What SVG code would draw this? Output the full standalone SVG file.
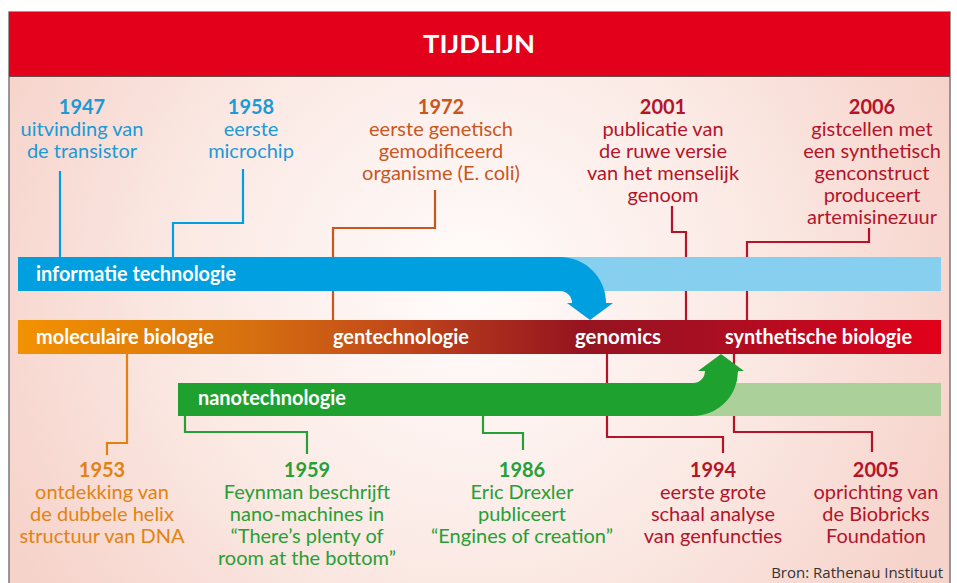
<svg xmlns="http://www.w3.org/2000/svg" width="957" height="583" viewBox="0 0 957 583">
<defs>
<radialGradient id="bg" cx="470" cy="290" r="520" gradientUnits="userSpaceOnUse">
<stop offset="0" stop-color="#fffcfb"/>
<stop offset="0.55" stop-color="#fbe9e4"/>
<stop offset="1" stop-color="#f6d3ca"/>
</radialGradient>
<linearGradient id="main" x1="18" y1="0" x2="941" y2="0" gradientUnits="userSpaceOnUse">
<stop offset="0" stop-color="#f39200"/>
<stop offset="0.25" stop-color="#d6700f"/>
<stop offset="0.42" stop-color="#c0461a"/>
<stop offset="0.5" stop-color="#ac2f1d"/>
<stop offset="0.61" stop-color="#951420"/>
<stop offset="0.75" stop-color="#a80f22"/>
<stop offset="1" stop-color="#e2001a"/>
</linearGradient>
<style>
.t{font-family:Lato,"Open Sans","Liberation Sans",sans-serif;font-size:20px;text-anchor:middle}
.y{font-weight:bold}
.bar{font-family:Lato,"Open Sans","Liberation Sans",sans-serif;font-size:21px;font-weight:bold;fill:#ffffff}
.c{fill:none;stroke-width:2.2}
.blue{fill:#1a9ad6}
.orange{fill:#c9561d}
.orange2{fill:#e38212}
.green{fill:#26a035}
.red{fill:#b3142a}
</style>
</defs>
<rect x="0" y="0" width="957" height="583" fill="#ffffff"/>
<rect x="9" y="12" width="941" height="580" fill="url(#bg)" stroke="#7a7a7a" stroke-width="1.5"/>
<g id="header">
<rect x="9" y="12" width="941" height="64" fill="#e2001a"/>
<line x1="9" y1="76.5" x2="950" y2="76.5" stroke="#6b4a4a" stroke-width="1.2"/>
<text x="479" y="53" font-family="Lato,'Open Sans','Liberation Sans',sans-serif" font-size="25" font-weight="bold" fill="#ffffff" text-anchor="middle" textLength="112" lengthAdjust="spacingAndGlyphs">TIJDLIJN</text>
</g>
<g id="connectors">
<path class="c" stroke="#009fe0" d="M60,171 V257"/>
<path class="c" stroke="#009fe0" d="M243,169 V223 H173 V257"/>
<path class="c" stroke="#c9561d" d="M435,190 V228 H333 V320"/>
<path class="c" stroke="#b3142a" d="M672,206 V232 H686 V320"/>
<path class="c" stroke="#b3142a" d="M869,228 V242 H747 V320"/>
<path class="c" stroke="#e38212" d="M127,354 V443 H107 V455"/>
<path class="c" stroke="#26a035" d="M185,416 V432 H307 V454"/>
<path class="c" stroke="#26a035" d="M483,416 V433 H523 V450"/>
<path class="c" stroke="#b3142a" d="M607,354 V437 H723 V453"/>
<path class="c" stroke="#b3142a" d="M734,354 V432 H872 V452"/>
</g>
<g id="bar-it">
<rect x="560" y="257" width="381" height="34" fill="#86cfee"/>
<path d="M18,257 H560 A46,46 0 0 1 606,303 H613 L590,320 L567,303 H572 A12,12 0 0 0 560,291 H18 Z" fill="#009fe0"/>
<text class="bar" x="36" y="281" textLength="200" lengthAdjust="spacingAndGlyphs">informatie technologie</text>
</g>
<g id="bar-main">
<rect x="18" y="320" width="923" height="34" fill="url(#main)"/>
<text class="bar" x="36" y="344" textLength="178" lengthAdjust="spacingAndGlyphs">moleculaire biologie</text>
<text class="bar" x="333" y="344" textLength="136" lengthAdjust="spacingAndGlyphs">gentechnologie</text>
<text class="bar" x="575" y="344" textLength="86" lengthAdjust="spacingAndGlyphs">genomics</text>
<text class="bar" x="725" y="344" textLength="187" lengthAdjust="spacingAndGlyphs">synthetische biologie</text>
</g>
<g id="bar-nano">
<rect x="693" y="383" width="248" height="33" fill="#abd09a"/>
<path d="M178,416 H693 A45,45 0 0 0 738,371 H744 L721,354 L698,371 H705 A12,12 0 0 1 693,383 H178 Z" fill="#1fa12f"/>
<text class="bar" x="198" y="405" textLength="148" lengthAdjust="spacingAndGlyphs">nanotechnologie</text>
</g>
<g id="e1947" class="t blue">
<text class="y" x="82" y="114">1947</text>
<text x="82" y="136">uitvinding van</text>
<text x="82" y="158">de transistor</text>
</g>
<g id="e1958" class="t blue">
<text class="y" x="251" y="114">1958</text>
<text x="251" y="136">eerste</text>
<text x="251" y="158">microchip</text>
</g>
<g id="e1972" class="t orange">
<text class="y" x="441" y="114">1972</text>
<text x="441" y="136">eerste genetisch</text>
<text x="441" y="158">gemodificeerd</text>
<text x="441" y="180">organisme (E. coli)</text>
</g>
<g id="e2001" class="t red">
<text class="y" x="663" y="114">2001</text>
<text x="663" y="136">publicatie van</text>
<text x="663" y="158">de ruwe versie</text>
<text x="663" y="180">van het menselijk</text>
<text x="663" y="202">genoom</text>
</g>
<g id="e2006" class="t red">
<text class="y" x="872" y="114">2006</text>
<text x="872" y="136">gistcellen met</text>
<text x="872" y="158">een synthetisch</text>
<text x="872" y="180">genconstruct</text>
<text x="872" y="202">produceert</text>
<text x="872" y="224">artemisinezuur</text>
</g>
<g id="e1953" class="t orange2">
<text class="y" x="102" y="477">1953</text>
<text x="102" y="499">ontdekking van</text>
<text x="102" y="521">de dubbele helix</text>
<text x="102" y="543">structuur van DNA</text>
</g>
<g id="e1959" class="t green">
<text class="y" x="307" y="477">1959</text>
<text x="307" y="499">Feynman beschrijft</text>
<text x="307" y="521">nano-machines in</text>
<text x="307" y="543">“There’s plenty of</text>
<text x="307" y="565">room at the bottom”</text>
</g>
<g id="e1986" class="t green">
<text class="y" x="522" y="477">1986</text>
<text x="522" y="499">Eric Drexler</text>
<text x="522" y="521">publiceert</text>
<text x="522" y="543">“Engines of creation”</text>
</g>
<g id="e1994" class="t red">
<text class="y" x="713" y="477">1994</text>
<text x="713" y="499">eerste grote</text>
<text x="713" y="521">schaal analyse</text>
<text x="713" y="543">van genfuncties</text>
</g>
<g id="e2005" class="t red">
<text class="y" x="876" y="477">2005</text>
<text x="876" y="499">oprichting van</text>
<text x="876" y="521">de Biobricks</text>
<text x="876" y="543">Foundation</text>
</g>
<text x="943" y="578" font-family="'Open Sans','Liberation Sans',sans-serif" font-size="15" fill="#333333" text-anchor="end">Bron: Rathenau Instituut</text>
</svg>
